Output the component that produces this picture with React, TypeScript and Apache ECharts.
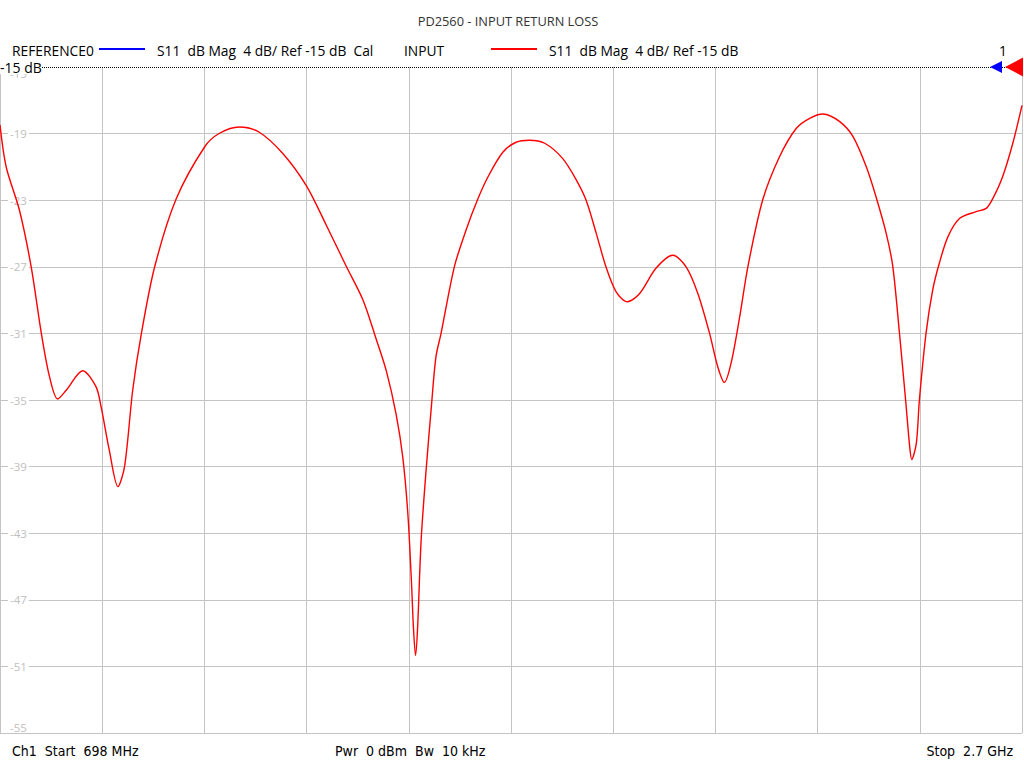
import { useEffect, useRef } from 'react';
import * as echarts from 'echarts';

const TITLE = 'PD2560 - INPUT RETURN LOSS';
const REF_TRACE_NAME = 'REFERENCE0';
const REF_TRACE_DESC = 'S11  dB Mag  4 dB/ Ref -15 dB  Cal';
const MAIN_TRACE_NAME = 'INPUT';
const MAIN_TRACE_DESC = 'S11  dB Mag  4 dB/ Ref -15 dB';
const MARKER_NO = '1';
const REF_LABEL = '-15 dB';
const FOOT_LEFT = 'Ch1  Start  698 MHz';
const FOOT_MID = 'Pwr  0 dBm  Bw  10 kHz';
const FOOT_RIGHT = 'Stop  2.7 GHz';

const X_MIN = 698;
const X_MAX = 2700;
const X_STEP = 200.2;
const Y_MIN = -55;
const Y_MAX = -15;
const Y_STEP = 4;
const REF_LEVEL = -15;

const FREQ_MHZ = [
  698, 710, 736, 759, 779, 795, 811, 828, 860, 886, 896, 912, 929, 942, 958, 975,
  1001, 1043, 1099, 1128, 1167, 1206, 1252, 1298, 1337, 1376, 1409, 1435, 1455,
  1474, 1487, 1497, 1504, 1508, 1512, 1516, 1523, 1533, 1543, 1552, 1562, 1588,
  1611, 1634, 1654, 1683, 1709, 1735, 1765, 1800, 1827, 1846, 1866, 1885, 1905,
  1927, 1951, 1983, 2016, 2042, 2065, 2088, 2104, 2117, 2130, 2147, 2163, 2192,
  2225, 2258, 2284, 2310, 2343, 2369, 2395, 2414, 2434, 2447, 2460, 2472, 2480,
  2484, 2493, 2499, 2512, 2525, 2538, 2555, 2578, 2610, 2630, 2643, 2662, 2682, 2700,
];
const S11_DB = [
  -18.48, -20.99, -23.59, -26.99, -31.0, -33.6, -34.94, -34.4, -33.24, -34.2, -35.4, -38.0, -40.2, -39.0, -34.4, -31.0,
  -27.0, -22.93, -19.79, -18.98, -18.6, -18.92, -20.2, -22.13, -24.49, -26.95, -28.99, -31.35, -33.28,
  -35.86, -38.43, -41.86, -45.93, -48.73, -50.34, -48.7, -43.4, -39.1, -35.4, -32.4, -31.0, -27.0,
  -24.79, -22.93, -21.59, -20.12, -19.52, -19.4, -19.58, -20.49, -21.79, -22.99, -24.99, -27.0, -28.5,
  -29.1, -28.6, -27.09, -26.31, -27.0, -28.6, -31.0, -33.0, -33.94, -32.8, -30.0, -27.0, -22.99,
  -20.39, -18.68, -18.08, -17.82, -18.28, -19.18, -20.99, -22.79, -24.99, -27.0, -31.0, -35.0, -37.8,
  -38.57, -37.6, -35.0, -31.0, -28.4, -26.79, -25.19, -24.09, -23.69, -23.49, -22.89, -21.59, -19.58, -17.3,
];

const GRID_COLOR = '#c4c4c4';
const LABEL_COLOR = '#c0c0c0';
const UI_FONT = '"Open Sans", "Noto Sans", sans-serif';
const NARROW_FONT = '"Liberation Sans Narrow", "DejaVu Sans Condensed", sans-serif';

function yAxisFor(which: 'mid' | 'top' | 'bot', showSplit: boolean) {
  return {
    type: 'value',
    min: Y_MIN,
    max: Y_MAX,
    interval: Y_STEP,
    position: 'left',
    axisLine: { show: false },
    axisTick: { show: false },
    splitLine: {
      show: showSplit,
      lineStyle: {
        color: [...Array(10).fill(GRID_COLOR), 'rgba(0,0,0,0)'],
        width: 1,
      },
    },
    axisLabel: {
      inside: true,
      margin: 8,
      color: LABEL_COLOR,
      fontFamily: UI_FONT,
      fontSize: 11.5,
      backgroundColor: which === 'mid' ? '#ffffff' : 'transparent',
      padding: [0, 2, 0, 2],
      verticalAlign: which === 'top' ? 'top' : which === 'bot' ? 'bottom' : 'middle',
      formatter: (v: number) => {
        if (which === 'top') return v === Y_MAX ? String(v) : '';
        if (which === 'bot') return v === Y_MIN ? String(v) : '';
        return v === Y_MAX || v === Y_MIN ? '' : String(v);
      },
    },
  };
}

function txt(text: string, x: number, y: number, font: string, fill: string, align = 'left', bg?: string) {
  return {
    type: 'text',
    x,
    y,
    z: 100,
    style: {
      text,
      font,
      fill,
      align,
      textAlign: align,
      verticalAlign: 'middle',
      textVerticalAlign: 'middle',
      backgroundColor: bg,
    },
  };
}

export default function App() {
  const ref = useRef<HTMLDivElement>(null);
  useEffect(() => {
    if (!ref.current) return;
    const chart = echarts.init(ref.current, null, { renderer: 'svg' });
    const data = FREQ_MHZ.map((f, i) => [f, S11_DB[i]]);
    chart.setOption({
      animation: false,
      backgroundColor: '#ffffff',
      grid: { left: 0, right: 2, top: 67, bottom: 35, containLabel: false },
      xAxis: {
        type: 'value',
        min: X_MIN,
        max: X_MAX,
        interval: X_STEP,
        axisLine: { show: false },
        axisTick: { show: false },
        axisLabel: { show: false },
        splitLine: { show: true, lineStyle: { color: GRID_COLOR, width: 1 } },
      },
      yAxis: [yAxisFor('mid', true), yAxisFor('top', false), yAxisFor('bot', false)],
      series: [
        {
          type: 'line',
          name: MAIN_TRACE_NAME,
          data,
          showSymbol: false,
          smooth: 0.3,
          lineStyle: { color: '#ff0000', width: 1.4 },
          z: 5,
          markLine: {
            silent: true,
            symbol: 'none',
            label: { show: false },
            lineStyle: { color: '#000000', type: 'dotted', width: 1 },
            data: [{ yAxis: REF_LEVEL }],
          },
          markPoint: {
            silent: true,
            label: { show: false },
            data: [
              {
                coord: [X_MAX, REF_LEVEL],
                symbol: 'triangle',
                symbolSize: [12, 12],
                symbolRotate: 90,
                symbolOffset: [-26, 0],
                itemStyle: { color: '#0000ff' },
              },
              {
                coord: [X_MAX, REF_LEVEL],
                symbol: 'triangle',
                symbolSize: [19, 18],
                symbolRotate: 90,
                symbolOffset: [-8, 0],
                itemStyle: { color: '#ff0000' },
              },
            ],
          },
        },
      ],
      graphic: [
        txt(TITLE, 508, 21, `12.8px ${UI_FONT}`, '#333333', 'center'),
        txt(REF_TRACE_NAME, 12, 50, `13.8px ${UI_FONT}`, '#000000'),
        {
          type: 'line',
          z: 100,
          shape: { x1: 99, y1: 49, x2: 145, y2: 49 },
          style: { stroke: '#0000ff', lineWidth: 2 },
        },
        txt(REF_TRACE_DESC, 157, 50, `13.8px ${UI_FONT}`, '#000000'),
        txt(MAIN_TRACE_NAME, 404, 50, `13.8px ${UI_FONT}`, '#000000'),
        {
          type: 'line',
          z: 100,
          shape: { x1: 491, y1: 49, x2: 537, y2: 49 },
          style: { stroke: '#ff0000', lineWidth: 2 },
        },
        txt(MAIN_TRACE_DESC, 549, 50, `13.8px ${UI_FONT}`, '#000000'),
        txt(MARKER_NO, 1003, 50, `13.8px ${UI_FONT}`, '#000000', 'center'),
        txt(REF_LABEL, 0, 67, `14px ${UI_FONT}`, '#000000', 'left', '#ffffff'),
        txt(FOOT_LEFT, 12, 751, `14px ${NARROW_FONT}`, '#000000'),
        txt(FOOT_MID, 335, 751, `14px ${NARROW_FONT}`, '#000000'),
        txt(FOOT_RIGHT, 1013, 751, `14px ${NARROW_FONT}`, '#000000', 'right'),
      ],
    });
    return () => chart.dispose();
  }, []);
  return (
    <div
      ref={ref}
      style={{ position: 'absolute', left: 0, top: 0, width: 1024, height: 768, background: '#fff' }}
    />
  );
}
